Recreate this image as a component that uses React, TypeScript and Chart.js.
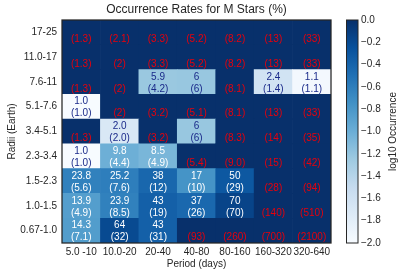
import React, { useEffect, useRef } from "react";
import { Chart, registerables } from "chart.js";

Chart.register(...registerables);

const periods = ["5.0 -10", "10.0-20", "20-40", "40-80", "80-160", "160-320", "320-640"];
// top to bottom
const radii = ["17-25", "11.0-17", "7.6-11", "5.1-7.6", "3.4-5.1", "2.3-3.4", "1.5-2.3", "1.0-1.5", "0.67-1.0"];

// occurrence rates in %, null = only an upper limit
const rates: (string | null)[][] = [
  [null, null, null, null, null, null, null],
  [null, null, null, null, null, null, null],
  [null, null, "5.9", "6", null, "2.4", "1.1"],
  ["1.0", null, null, null, null, null, null],
  [null, "2.0", null, "6", null, null, null],
  ["1.0", "9.8", "8.5", null, null, null, null],
  ["23.8", "25.2", "38", "17", "50", null, null],
  ["13.9", "23.9", "43", "37", "70", null, null],
  ["14.3", "64", "43", null, null, null, null],
];

// uncertainties / upper limits in %
const errors: string[][] = [
  ["1.3", "2.1", "3.3", "5.2", "8.2", "13", "33"],
  ["1.3", "2", "3.3", "5.2", "8.2", "13", "33"],
  ["1.3", "2", "4.2", "6", "8.1", "1.4", "1.1"],
  ["1.0", "2", "3.2", "5.1", "8.1", "13", "33"],
  ["1.3", "2.0", "3.2", "6", "8.3", "14", "35"],
  ["1.0", "4.4", "4.9", "5.4", "9.0", "15", "42"],
  ["5.6", "7.6", "12", "10", "29", "28", "94"],
  ["4.9", "8.5", "19", "26", "70", "140", "510"],
  ["7.1", "32", "31", "93", "260", "700", "2100"],
];

const cbMin = -2;
const cbMax = 0;
const cbStep = 0.2;

const BLUES = ["#f7fbff", "#deebf7", "#c6dbef", "#9ecae1", "#6baed6", "#4292c6", "#2171b5", "#08519c", "#08306b"];
const FONT = "'Liberation Sans', Arial, Helvetica, sans-serif";
const TXT = "#262626";

function hexToRgb(h: string) {
  return [parseInt(h.slice(1, 3), 16), parseInt(h.slice(3, 5), 16), parseInt(h.slice(5, 7), 16)];
}
function blues(t: number) {
  const tt = Math.max(0, Math.min(1, t));
  const p = tt * (BLUES.length - 1);
  const i = Math.min(BLUES.length - 2, Math.floor(p));
  const f = p - i;
  const a = hexToRgb(BLUES[i]);
  const b = hexToRgb(BLUES[i + 1]);
  const c = a.map((v, k) => Math.round(v + (b[k] - v) * f));
  return `rgb(${c[0]},${c[1]},${c[2]})`;
}
function norm(rate: string | null) {
  if (rate === null) return 1;
  const lv = Math.log10(parseFloat(rate) / 100);
  return (lv - cbMin) / (cbMax - cbMin);
}

const nRows = radii.length;

const heatPlugin = {
  id: "heatPlugin",
  afterDatasetsDraw(chart: any) {
    const ctx = chart.ctx;
    ctx.save();
    ctx.font = `10px ${FONT}`;
    ctx.textAlign = "center";
    ctx.textBaseline = "middle";
    for (let d = 0; d < nRows; d++) {
      const r = nRows - 1 - d;
      const meta = chart.getDatasetMeta(d);
      meta.data.forEach((el: any, c: number) => {
        const cx = el.x;
        const cy = (el.y + el.base) / 2;
        const rate = rates[r][c];
        const err = "(" + errors[r][c] + ")";
        if (rate === null) {
          ctx.fillStyle = "#e8000b";
          ctx.fillText(err, cx, cy + 7);
        } else {
          ctx.fillStyle = norm(rate) > 0.43 ? "#ffffff" : "#1a2a8a";
          ctx.fillText(rate, cx, cy - 5);
          ctx.fillText(err, cx, cy + 7);
        }
      });
    }
    // frame
    const a = chart.chartArea;
    ctx.strokeStyle = TXT;
    ctx.lineWidth = 1.25;
    ctx.strokeRect(a.left, a.top, a.right - a.left, a.bottom - a.top);
    ctx.restore();
  },
  afterDraw(chart: any) {
    const ctx = chart.ctx;
    const a = chart.chartArea;
    ctx.save();
    // title
    ctx.font = `12px ${FONT}`;
    ctx.fillStyle = TXT;
    ctx.textAlign = "center";
    ctx.textBaseline = "middle";
    ctx.fillText("Occurrence Rates for M Stars (%)", (a.left + a.right) / 2, 10);
    // colorbar
    const g = chart.scales.gap;
    const cb = chart.scales.cb;
    const x2 = g.right;
    const x1 = x2 - 11.5;
    const top = cb.getPixelForValue(cbMax);
    const bot = cb.getPixelForValue(cbMin);
    const grad = ctx.createLinearGradient(0, bot, 0, top);
    for (let i = 0; i < BLUES.length; i++) grad.addColorStop(i / (BLUES.length - 1), BLUES[i]);
    ctx.fillStyle = grad;
    ctx.fillRect(x1, top, x2 - x1, bot - top);
    ctx.strokeStyle = TXT;
    ctx.lineWidth = 1;
    ctx.strokeRect(x1, top, x2 - x1, bot - top);
    // colorbar label
    ctx.translate(393, (top + bot) / 2);
    ctx.rotate(-Math.PI / 2);
    ctx.font = `10px ${FONT}`;
    ctx.fillStyle = TXT;
    ctx.fillText("log10 Occurrence", 0, 0);
    ctx.restore();
  },
};

export default function App() {
  const ref = useRef<HTMLCanvasElement>(null);
  useEffect(() => {
    if (!ref.current) return;
    Chart.defaults.font.family = FONT;
    Chart.defaults.color = TXT;
    const datasets = [];
    for (let d = 0; d < nRows; d++) {
      const r = nRows - 1 - d;
      datasets.push({
        label: radii[r],
        data: periods.map(() => 1),
        backgroundColor: periods.map((_, c) => blues(norm(rates[r][c]))),
        borderWidth: 0,
        barPercentage: 1,
        categoryPercentage: 1,
        xAxisID: "x",
        yAxisID: "y",
      });
    }
    const chart = new Chart(ref.current, {
      type: "bar",
      data: { labels: periods, datasets },
      plugins: [heatPlugin],
      options: {
        responsive: false,
        animation: false,
        layout: { padding: { top: 20, left: 0, right: 0, bottom: 0 } },
        plugins: { legend: { display: false }, tooltip: { enabled: false }, title: { display: false } },
        scales: {
          x: {
            type: "category",
            stacked: true,
            grid: { display: false, drawTicks: false },
            border: { display: false },
            ticks: { padding: 3, font: { size: 10 }, color: TXT, maxRotation: 0, autoSkip: false },
            title: { display: true, text: "Period (days)", font: { size: 10 }, color: TXT, padding: { top: 0, bottom: 7 } },
            afterFit: (s: any) => { s.height = 34; },
          },
          y: {
            type: "linear",
            stacked: true,
            min: 0,
            max: nRows,
            grid: { display: false, drawTicks: false },
            border: { display: false },
            afterBuildTicks: (s: any) => {
              s.ticks = radii.map((_, i) => ({ value: i + 0.5 }));
            },
            ticks: {
              padding: 5,
              font: { size: 10 },
              color: TXT,
              callback: (_v: any, i: number) => radii[nRows - 1 - i],
            },
            title: { display: true, text: "Radii (Earth)", font: { size: 10 }, color: TXT, padding: { top: 6, bottom: 0 } },
            afterFit: (s: any) => { s.width = 62; },
          },
          gap: {
            type: "linear",
            position: "right",
            weight: 0,
            display: true,
            grid: { display: false, drawTicks: false },
            border: { display: false },
            ticks: { display: false },
            afterFit: (s: any) => { s.width = 27; },
          },
          cb: {
            type: "linear",
            position: "right",
            weight: 1,
            min: cbMin,
            max: cbMax,
            grid: { display: false, drawTicks: false },
            border: { display: false },
            afterBuildTicks: (s: any) => {
              const t = [];
              const n = Math.round((cbMax - cbMin) / cbStep);
              for (let i = 0; i <= n; i++) t.push({ value: cbMin + i * cbStep });
              s.ticks = t;
            },
            ticks: {
              padding: 3,
              font: { size: 10 },
              color: TXT,
              callback: (v: any) => {
                const s = Number(v).toFixed(1);
                return s === "-0.0" ? "0.0" : s.replace("-", "\u2212");
              },
            },
            afterFit: (s: any) => { s.width = 45; },
          },
        },
      } as any,
    });
    return () => chart.destroy();
  }, []);
  return (
    <div style={{ position: "absolute", left: 0, top: 0, width: 403, height: 277, background: "#fff" }}>
      <canvas ref={ref} width={403} height={277} style={{ display: "block" }} />
    </div>
  );
}
